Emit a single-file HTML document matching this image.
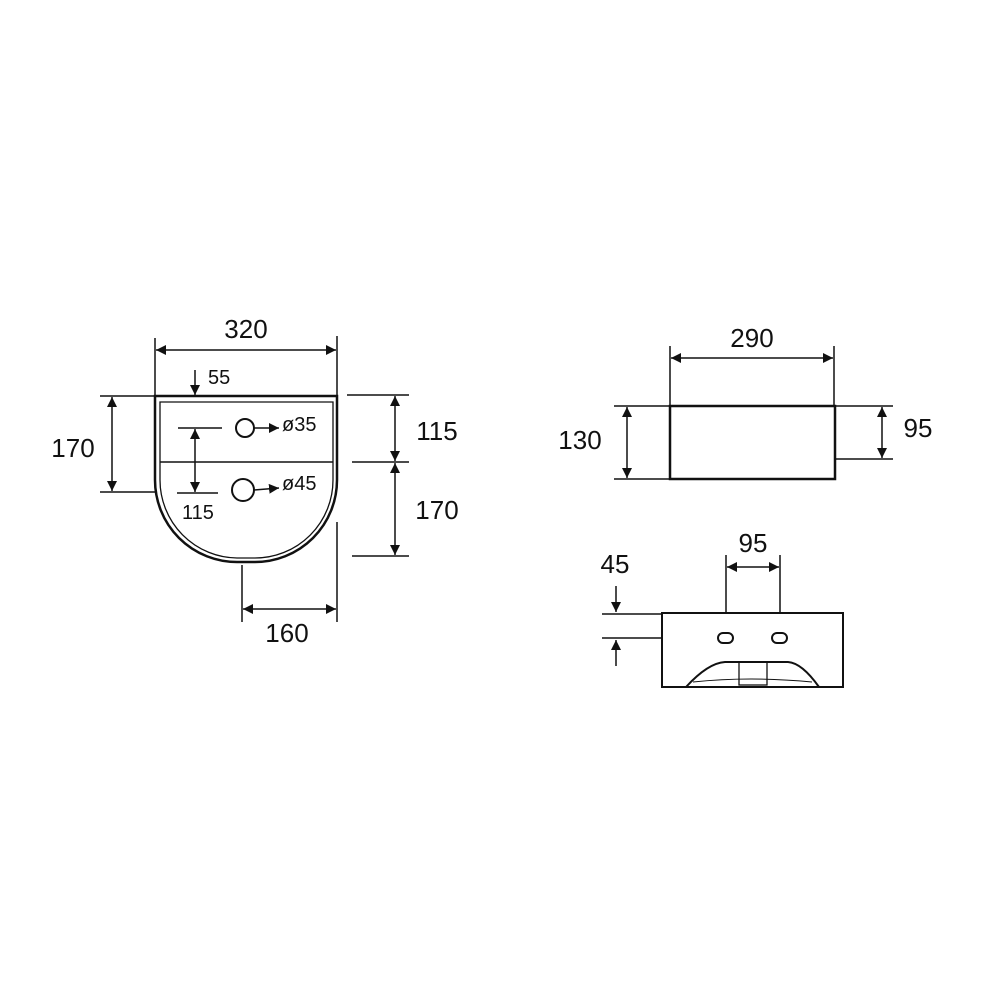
<!DOCTYPE html>
<html><head><style>html,body{margin:0;padding:0;background:#fff}</style></head>
<body>
<svg width="1000" height="1000" viewBox="0 0 1000 1000" xmlns="http://www.w3.org/2000/svg" font-family="Liberation Sans, Arial, sans-serif" fill="none" stroke="#111">
<defs>
<marker id="a" viewBox="0 0 10 10" refX="10" refY="5" markerWidth="10" markerHeight="10" markerUnits="userSpaceOnUse" orient="auto-start-reverse"><path d="M0,0 L10,5 L0,10 z" fill="#111" stroke="none"/></marker>
</defs>
<g stroke-width="1.5">
<!-- top view -->
<path d="M155,396 H337 V480 A82,82 0 0 1 255,562 H237 A82,82 0 0 1 155,480 Z" stroke-width="2.5"/>
<path d="M160,402 H333 V480 A78,78 0 0 1 255,558 H237 A78,78 0 0 1 160,480 Z" stroke-width="1.3"/>
<line x1="160" y1="462" x2="333" y2="462"/>
<line x1="155" y1="338" x2="155" y2="396"/><line x1="337" y1="336" x2="337" y2="396"/>
<line x1="156" y1="350" x2="336" y2="350" marker-start="url(#a)" marker-end="url(#a)"/>
<line x1="195" y1="370" x2="195" y2="395" marker-end="url(#a)"/>
<line x1="100" y1="396" x2="155" y2="396"/><line x1="100" y1="492" x2="155" y2="492"/>
<line x1="112" y1="397" x2="112" y2="491" marker-start="url(#a)" marker-end="url(#a)"/>
<line x1="178" y1="428" x2="222" y2="428"/><line x1="177" y1="493" x2="218" y2="493"/>
<line x1="195" y1="429" x2="195" y2="492" marker-start="url(#a)" marker-end="url(#a)"/>
<circle cx="245" cy="428" r="9" stroke-width="2"/>
<line x1="254" y1="428" x2="279" y2="428" marker-end="url(#a)"/>
<circle cx="243" cy="490" r="11" stroke-width="2"/>
<line x1="254" y1="490" x2="279" y2="488" marker-end="url(#a)"/>
<line x1="347" y1="395" x2="409" y2="395"/><line x1="352" y1="462" x2="409" y2="462"/><line x1="352" y1="556" x2="409" y2="556"/>
<line x1="395" y1="396" x2="395" y2="461" marker-start="url(#a)" marker-end="url(#a)"/>
<line x1="395" y1="463" x2="395" y2="555" marker-start="url(#a)" marker-end="url(#a)"/>
<line x1="242" y1="565" x2="242" y2="622"/><line x1="337" y1="522" x2="337" y2="622"/>
<line x1="243" y1="609" x2="336" y2="609" marker-start="url(#a)" marker-end="url(#a)"/>
<!-- right top -->
<rect x="670" y="406" width="165" height="73" stroke-width="2.5"/>
<line x1="670" y1="346" x2="670" y2="406"/><line x1="834" y1="346" x2="834" y2="406"/>
<line x1="671" y1="358" x2="833" y2="358" marker-start="url(#a)" marker-end="url(#a)"/>
<line x1="614" y1="406" x2="670" y2="406"/><line x1="614" y1="479" x2="670" y2="479"/>
<line x1="627" y1="407" x2="627" y2="478" marker-start="url(#a)" marker-end="url(#a)"/>
<line x1="835" y1="406" x2="893" y2="406"/><line x1="835" y1="459" x2="893" y2="459"/>
<line x1="882" y1="407" x2="882" y2="458" marker-start="url(#a)" marker-end="url(#a)"/>
<!-- right bottom -->
<rect x="662" y="613" width="181" height="74" stroke-width="2"/>
<line x1="726" y1="555" x2="726" y2="613"/><line x1="780" y1="555" x2="780" y2="613"/>
<line x1="727" y1="567" x2="779" y2="567" marker-start="url(#a)" marker-end="url(#a)"/>
<line x1="602" y1="614" x2="662" y2="614"/><line x1="602" y1="638" x2="662" y2="638"/>
<line x1="616" y1="586" x2="616" y2="612" marker-end="url(#a)"/>
<line x1="616" y1="666" x2="616" y2="640" marker-end="url(#a)"/>
<rect x="718" y="633" width="15" height="10" rx="5" stroke-width="2"/>
<rect x="772" y="633" width="15" height="10" rx="5" stroke-width="2"/>
<path d="M686,687 Q708,663 725,662 H788 Q802,663 819,687" stroke-width="2"/>
<path d="M693,682 Q750,676 812,682" stroke-width="1"/>
<rect x="739" y="662" width="28" height="23" stroke-width="1.3"/>
</g>
<g fill="#111" stroke="none" font-size="26">
<text x="246" y="338" text-anchor="middle">320</text>
<text x="208" y="384" font-size="20">55</text>
<text x="73" y="457" text-anchor="middle">170</text>
<text x="198" y="519" font-size="20" text-anchor="middle">115</text>
<text x="282" y="431" font-size="20">ø35</text>
<text x="282" y="490" font-size="20">ø45</text>
<text x="437" y="440" text-anchor="middle">115</text>
<text x="437" y="519" text-anchor="middle">170</text>
<text x="287" y="642" text-anchor="middle">160</text>
<text x="752" y="347" text-anchor="middle">290</text>
<text x="580" y="449" text-anchor="middle">130</text>
<text x="918" y="437" text-anchor="middle">95</text>
<text x="753" y="552" text-anchor="middle">95</text>
<text x="615" y="573" text-anchor="middle">45</text>
</g>
</svg>
</body></html>
